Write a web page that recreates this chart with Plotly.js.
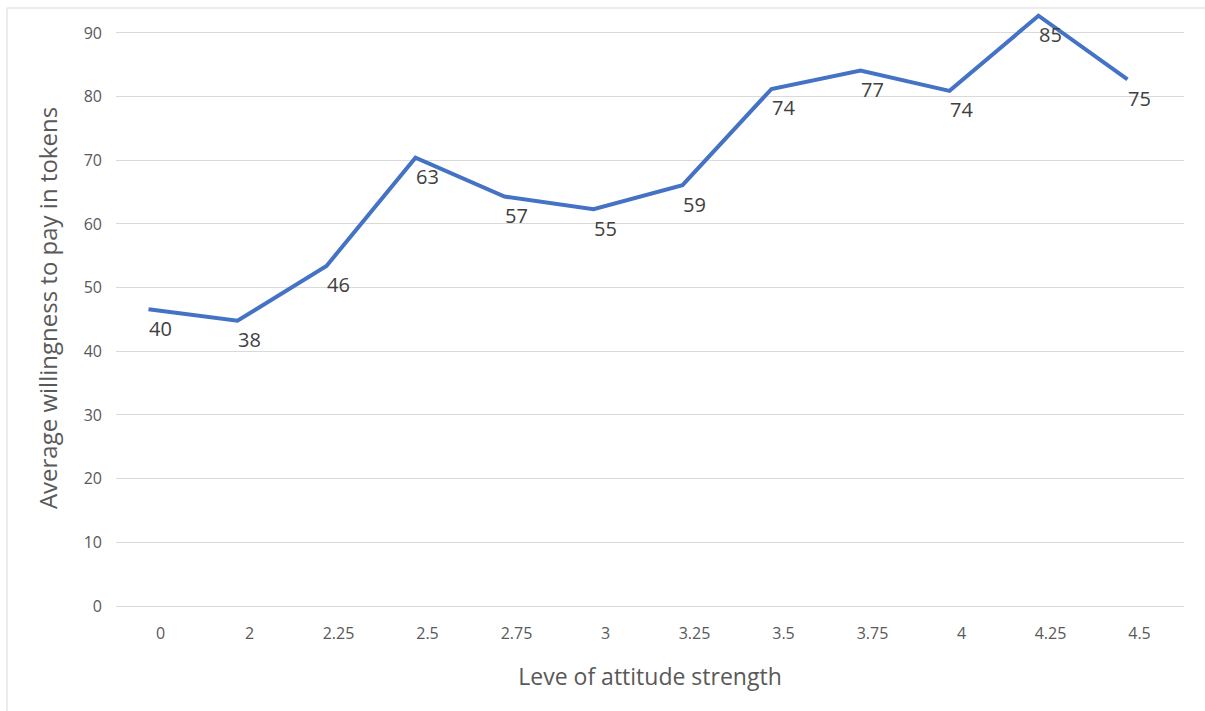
<!DOCTYPE html>
<html>
<head>
<meta charset="utf-8">
<script src="https://cdn.plot.ly/plotly-3.0.1.min.js"></script>
<style>
html,body{margin:0;padding:0;background:#fff;}
#chart{width:1205px;height:711px;}
</style>
</head>
<body>
<div id="chart"></div>
<script>
// Data
const categories = ["0", "2", "2.25", "2.5", "2.75", "3", "3.25", "3.5", "3.75", "4", "4.25", "4.5"];
const lineValues = [46.6, 44.8, 53.4, 70.4, 64.3, 62.3, 66.1, 81.2, 84.1, 80.9, 92.7, 82.7];
const dataLabels = ["40", "38", "46", "63", "57", "55", "59", "74", "77", "74", "85", "75"];
const yTicks = [0, 10, 20, 30, 40, 50, 60, 70, 80, 90];

const FONT = "Open Sans, Noto Sans, sans-serif";

const lineTrace = {
  x: categories,
  y: lineValues,
  xaxis: "x2",
  yaxis: "y",
  type: "scatter",
  mode: "lines",
  line: {color: "#4472C4", width: 4},
  hoverinfo: "skip",
  showlegend: false
};

// anchor the labels to the category positions (by index on the category axis)
const annotations = categories.map((c, i) => ({
  x: i,
  y: lineValues[i],
  xref: "x",
  yref: "y",
  text: dataLabels[i],
  showarrow: false,
  yshift: -19,
  font: {family: FONT, size: 20, color: "#404040"}
}));

const layout = {
  width: 1205,
  height: 711,
  margin: {l: 116, r: 21, t: 10, b: 105},
  paper_bgcolor: "#ffffff",
  plot_bgcolor: "#ffffff",
  showlegend: false,
  font: {family: FONT, color: "#595959"},
  xaxis: {
    type: "category",
    categoryorder: "array",
    categoryarray: categories,
    tickvals: categories,
    range: [-0.5, categories.length - 0.5],
    showgrid: false,
    zeroline: false,
    showline: false,
    ticks: "",
    ticklabelstandoff: 16,
    tickfont: {family: FONT, size: 16, color: "#595959"},
    title: {text: "Leve of attitude strength", font: {family: FONT, size: 23, color: "#595959"}, standoff: 25},
    fixedrange: true
  },
  xaxis2: {
    type: "category",
    categoryorder: "array",
    categoryarray: categories,
    overlaying: "x",
    range: [-0.5 + 0.135, categories.length - 0.5 + 0.135],
    visible: false,
    fixedrange: true
  },
  yaxis: {
    range: [0, 93.6],
    tickvals: yTicks,
    ticktext: yTicks.map(String),
    showgrid: true,
    gridcolor: "#d9d9d9",
    gridwidth: 1,
    zeroline: true,
    zerolinecolor: "#d9d9d9",
    zerolinewidth: 1,
    showline: false,
    ticks: "",
    ticklabelstandoff: 13,
    tickfont: {family: FONT, size: 16, color: "#595959"},
    title: {text: "Average willingness to pay in tokens", font: {family: FONT, size: 24, color: "#595959"}, standoff: 19},
    fixedrange: true
  },
  annotations: annotations,
  shapes: [
    {type: "line", xref: "paper", yref: "paper",
     x0: (7 - 116) / 1068, x1: (1205 - 116) / 1068, y0: (606 - 8) / 596, y1: (606 - 8) / 596,
     line: {color: "#d9d9d9", width: 1}},
    {type: "line", xref: "paper", yref: "paper",
     x0: (7 - 116) / 1068, x1: (7 - 116) / 1068, y0: (606 - 711) / 596, y1: (606 - 8) / 596,
     line: {color: "#d9d9d9", width: 1}}
  ]
};

Plotly.newPlot("chart", [lineTrace], layout, {displayModeBar: false, staticPlot: true});
</script>
</body>
</html>
